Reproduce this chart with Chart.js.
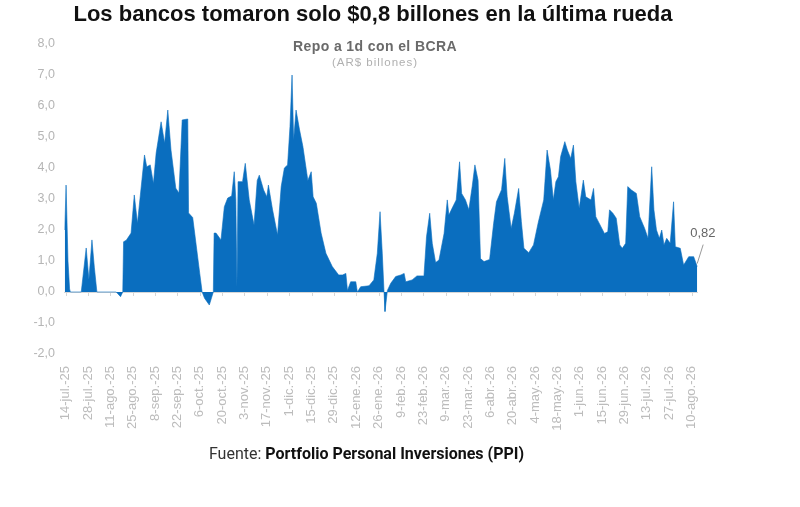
<!DOCTYPE html>
<html>
<head>
<meta charset="utf-8">
<script src="https://cdn.jsdelivr.net/npm/chart.js@4/dist/chart.umd.min.js"></script>
<style>
  body { margin: 0; background: #fff; }
  #wrap { position: relative; width: 800px; height: 507px; overflow: hidden; font-family: "Liberation Sans", Arial, sans-serif; }
  #chart { position: absolute; left: 0; top: 0; }
  .title { position: absolute; top: 1px; left: 0; width: 746px; text-align: center; font-size: 22px; font-weight: bold; color: #111; }
  .sub { position: absolute; top: 38px; left: 0; width: 750px; text-align: center; font-size: 14px; font-weight: bold; letter-spacing: 0.4px; color: #6a6a6a; }
  .unit { position: absolute; top: 56px; left: 0; width: 750px; text-align: center; font-size: 11.5px; letter-spacing: 1px; color: #b0b0b0; }
  .source { position: absolute; top: 444px; left: 0; width: 733px; text-align: center; font-size: 16px; color: #333; font-family: Roboto, "Liberation Sans", sans-serif; }
  .source b { color: #111; }
</style>
</head>
<body>
<div id="wrap">
  <canvas id="chart" width="800" height="507"></canvas>
  <div class="title">Los bancos tomaron solo $0,8 billones en la última rueda</div>
  <div class="sub">Repo a 1d con el BCRA</div>
  <div class="unit">(AR$ billones)</div>
  <div class="source">Fuente: <b>Portfolio Personal Inversiones (PPI)</b></div>
</div>
<script>
// days counted from 14-jul-25
const days = [
  -0.5, 0.3, 1.5, 2.5, 3, 9.8, 12.9, 14.6, 16.5, 18, 19.6, 31.7, 34.4, 35.8,
  36.3, 38, 41, 43, 45, 49.4, 50.8, 53, 55, 56.7, 59.8, 62, 64, 66, 69, 71,
  73, 76.5, 77, 79.6, 84, 85.5, 87, 90, 92.5, 93, 94.2, 97.3, 99.4, 101.5,
  104, 105.6, 106.6, 107.3, 108, 110.8, 112.5, 115, 118, 120, 121.3, 124,
  126, 127, 129.6, 132.7, 135, 137, 139, 140.5, 141.8, 142.8, 144.3, 146.5,
  148.6, 151.7, 153.8, 155, 157, 160, 163, 167, 171, 173.4, 175.5, 176.5,
  178.5, 181.7, 182.7, 184.8, 190, 193, 195.2, 196.9, 198.3, 199.4, 200,
  201.5, 203.6, 206.7, 210, 212, 213, 217, 220, 224.4, 226, 228, 229.6,
  231.7, 233.8, 237, 239, 240, 242, 244.6, 246.7, 248, 250.4, 252.5, 254.6,
  256.3, 258.3, 259.8, 262, 265.5, 268, 269.8, 273, 275, 276.5, 279, 281,
  283.7, 285.4, 287, 290, 293, 296, 299.4, 301.5, 303.6, 305.4, 307, 308.6,
  310, 312.6, 314.2, 316.3, 318, 319.5, 321.6, 324.2, 325.7, 329, 330.6,
  332, 335.3, 337.4, 339.5, 340.6, 342.7, 344.8, 347, 348.6, 350.7, 352,
  354.3, 357.4, 359.5, 362.6, 364.7, 367, 368.4, 370, 371.8, 373.3, 374.7,
  376.4, 378.6, 380.7, 381.8, 384.9, 387, 390.2, 393.3, 395.5
];
const repo = [
  2.0, 3.45, 1.0, 0.1, 0, 0, 1.42, 0.4, 1.68, 0.8, 0, 0, -0.15, 0,
  1.62, 1.67, 1.9, 3.13, 2.22, 4.42, 4.04, 4.1, 3.5, 4.48, 5.49, 4.8, 5.87, 4.58, 3.35, 3.19,
  5.55, 5.58, 2.55, 2.4, 0.6, 0, -0.2, -0.42, 0, 1.9, 1.9, 1.68, 2.75, 3.03,
  3.1, 3.88, 2.97, 0.17, 3.56, 3.56, 4.15, 2.97, 2.16, 3.6, 3.77, 3.29,
  3.07, 3.45, 2.65, 1.84, 3.4, 4.0, 4.1, 5.33, 7.0, 4.9, 5.87, 5.23,
  4.69, 3.6, 3.88, 3.07, 2.86, 1.9, 1.25, 0.82, 0.55, 0.55, 0.6, 0.05,
  0.33, 0.33, 0, 0.17, 0.2, 0.39, 1.25, 2.59, 1.25, 0, -0.63,
  0.05, 0.28, 0.5, 0.55, 0.6, 0.33, 0.39, 0.52, 0.52, 1.78, 2.54, 1.57,
  0.95, 1.03, 1.89, 2.97, 2.48, 2.7, 2.97, 4.2, 3.18, 2.97, 2.65, 3.4,
  4.1, 3.6, 1.08, 0.98, 1.05, 2.2, 2.91, 3.3, 4.31, 3.08, 2.05, 2.54,
  3.34, 2.27, 1.41, 1.27, 1.52, 2.25, 2.97, 4.58, 3.94, 2.97, 3.56, 3.72,
  4.37, 4.85, 4.58, 4.31, 4.74, 3.56, 2.7, 3.61, 3.07, 2.97, 3.34,
  2.43, 2.1, 1.89, 1.94, 2.65, 2.54, 2.38, 1.52, 1.41, 1.57, 3.4,
  3.29, 3.18, 2.43, 2.05, 1.73, 4.04, 2.65, 2.0, 1.73, 2.0, 1.52,
  1.73, 1.57, 2.91, 1.46, 1.41, 0.87, 1.14, 1.14, 0.82
];
const tickLabels = [
  '14-jul.-25', '28-jul.-25', '11-ago.-25', '25-ago.-25', '8-sep.-25', '22-sep.-25',
  '6-oct.-25', '20-oct.-25', '3-nov.-25', '17-nov.-25', '1-dic.-25', '15-dic.-25',
  '29-dic.-25', '12-ene.-26', '26-ene.-26', '9-feb.-26', '23-feb.-26', '9-mar.-26',
  '23-mar.-26', '6-abr.-26', '20-abr.-26', '4-may.-26', '18-may.-26', '1-jun.-26',
  '15-jun.-26', '29-jun.-26', '13-jul.-26', '27-jul.-26', '10-ago.-26'
];
const lastLabel = '0,82';

const blue = '#0A6EBF';

const zeroLine = {
  id: 'zeroLine',
  beforeDatasetsDraw(chart) {
    const { ctx, scales: { x, y } } = chart;
    const y0 = y.getPixelForValue(0);
    ctx.save();
    ctx.strokeStyle = '#d6d6d6';
    ctx.lineWidth = 1;
    ctx.beginPath();
    ctx.moveTo(x.left, y0 + 0.5);
    ctx.lineTo(x.right, y0 + 0.5);
    x.ticks.forEach(t => {
      const px = Math.round(x.getPixelForValue(t.value)) + 0.5;
      ctx.moveTo(px, y0);
      ctx.lineTo(px, y0 + 4);
    });
    ctx.stroke();
    ctx.restore();
  },
  afterDatasetsDraw(chart) {
    const { ctx } = chart;
    const pts = chart.getDatasetMeta(0).data;
    const p = pts[pts.length - 1];
    ctx.save();
    ctx.strokeStyle = '#999';
    ctx.lineWidth = 1;
    ctx.beginPath();
    ctx.moveTo(p.x, p.y - 3);
    ctx.lineTo(p.x + 6, p.y - 22);
    ctx.stroke();
    ctx.fillStyle = '#666';
    ctx.font = '13px "Liberation Sans", Arial, sans-serif';
    ctx.textBaseline = 'middle';
    ctx.fillText(lastLabel, p.x - 7, p.y - 33);
    ctx.restore();
  }
};

new Chart(document.getElementById('chart'), {
  type: 'line',
  data: {
    datasets: [{
      data: days.map((d, i) => ({ x: d, y: repo[i] })),
      fill: 'origin',
      backgroundColor: blue,
      borderColor: blue,
      borderWidth: 0.6,
      pointRadius: 0,
      tension: 0
    }]
  },
  options: {
    responsive: false,
    animation: false,
    layout: { padding: { top: 44, right: 102, left: 0, bottom: 0 } },
    plugins: { legend: { display: false }, tooltip: { enabled: false } },
    scales: {
      x: {
        type: 'linear',
        min: -1,
        max: 396,
        grid: { display: false },
        border: { display: false },
        afterBuildTicks: s => { s.ticks = tickLabels.map((_, i) => ({ value: i * 14 })); },
        afterFit: s => { s.height = 153; },
        ticks: {
          autoSkip: false,
          minRotation: 90,
          maxRotation: 90,
          padding: 4,
          color: '#bcbcbc',
          font: { size: 13, family: '"Liberation Sans", Arial, sans-serif' },
          callback: v => tickLabels[v / 14] ?? ''
        }
      },
      y: {
        min: -2,
        max: 8,
        grid: { display: false },
        border: { display: false },
        afterFit: s => { s.width = 64; },
        ticks: {
          stepSize: 1,
          padding: 1,
          color: '#b5b5b5',
          font: { size: 12.5, family: '"Liberation Sans", Arial, sans-serif' },
          callback: v => v.toFixed(1).replace('.', ',')
        }
      }
    }
  },
  plugins: [zeroLine]
});
</script>
</body>
</html>
